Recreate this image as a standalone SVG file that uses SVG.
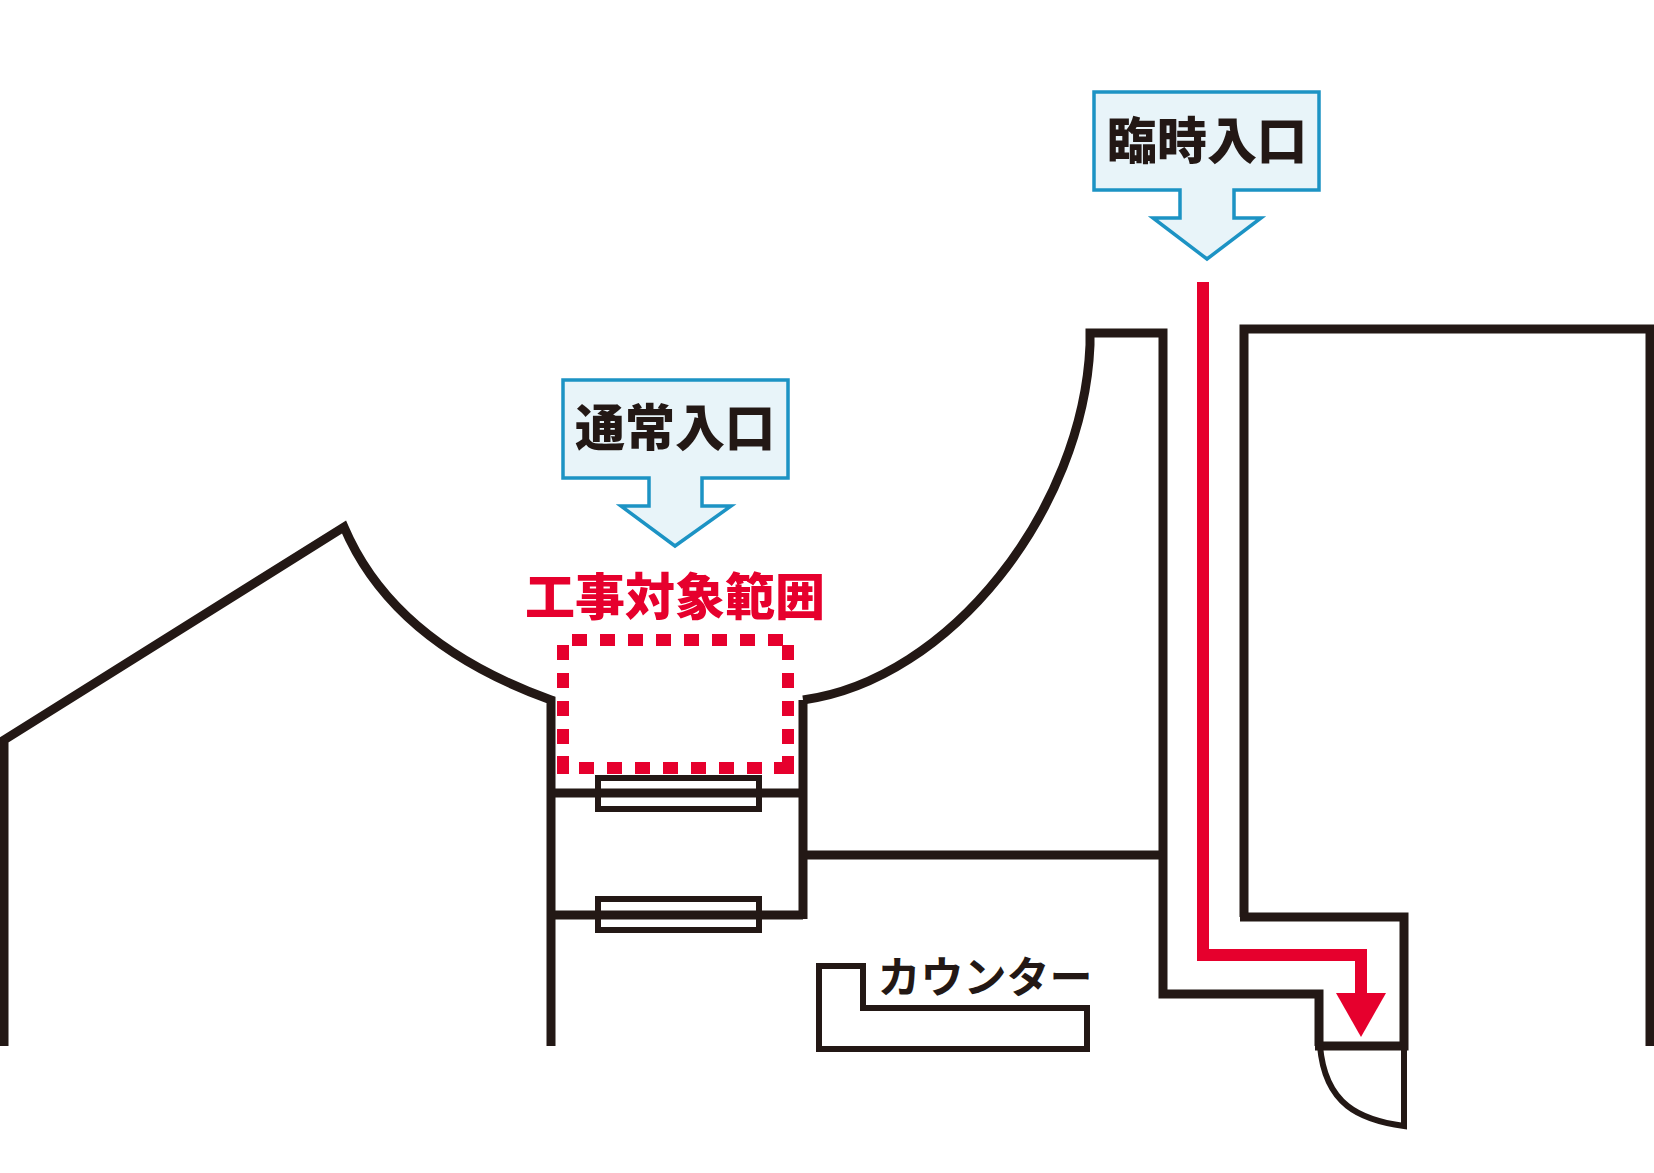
<svg xmlns="http://www.w3.org/2000/svg" width="1654" height="1173" viewBox="0 0 1654 1173">
<style>
.w{fill:none;stroke:#231815;stroke-width:9;stroke-linejoin:miter}
.t{stroke-width:6}
.callout{fill:#e8f4f9;stroke:#1c93c4;stroke-width:3.5;stroke-linejoin:miter}
.label{font-family:"Noto Sans CJK JP","Noto Sans CJK SC",sans-serif;font-weight:900;font-size:50px;fill:#231815;text-anchor:middle}
.red{fill:none;stroke:#e6002d}
.dot{stroke-width:12;stroke-dasharray:15 13}
</style>
<rect width="1654" height="1173" fill="#fff"/>
<g id="walls">
<path class="w" d="M4,1046V740L344,527C375,600 440,660 551,700V1046"/>
<path class="w" d="M803,700C950,680 1083,510 1090,345V333H1163V994H1319V1046"/>
<path class="w" d="M1244,917V329H1650V1046"/>
<path class="w" d="M1240,917H1404V1046H1315"/>
<path class="w" d="M551,793H803M551,915H803M803,700V919M803,855H1163"/>
</g>
<g id="windows">
<rect class="w t" x="598" y="778" width="161" height="31"/>
<rect class="w t" x="598" y="899" width="161" height="31"/>
</g>
<g id="counter">
<path class="w t" d="M819,966H863V1008H1087V1049H819Z"/>
<text class="label" x="985" y="993" style="font-size:43px;font-weight:700">カウンター</text>
</g>
<g id="door">
<path class="w t" d="M1404,1046V1126C1360,1120 1325,1105 1320,1046"/>
</g>
<g id="work-area">
<path class="red dot" d="M572,640H783M563,645V744M788,645V744M579,768H762"/>
<path class="red" stroke-width="12" d="M563,756V774M788,756V768H774"/>
<text class="label" x="675" y="615" style="fill:#e6002d">工事対象範囲</text>
</g>
<g id="entrance-normal">
<path class="callout" d="M563,380H788V478H702V506H731L675,546L621,506H649V478H563Z"/>
<text class="label" x="675" y="446">通常入口</text>
</g>
<g id="entrance-temp">
<path class="callout" d="M1094,92H1319V190H1234V218H1261L1207,259L1153,218H1180V190H1094Z"/>
<text class="label" x="1207" y="159">臨時入口</text>
</g>
<g id="connectors">
<path class="red" stroke-width="12" d="M1203,282V955H1361V995"/>
<path d="M1336,993H1386L1361,1037Z" fill="#e6002d"/>
</g>
</svg>
